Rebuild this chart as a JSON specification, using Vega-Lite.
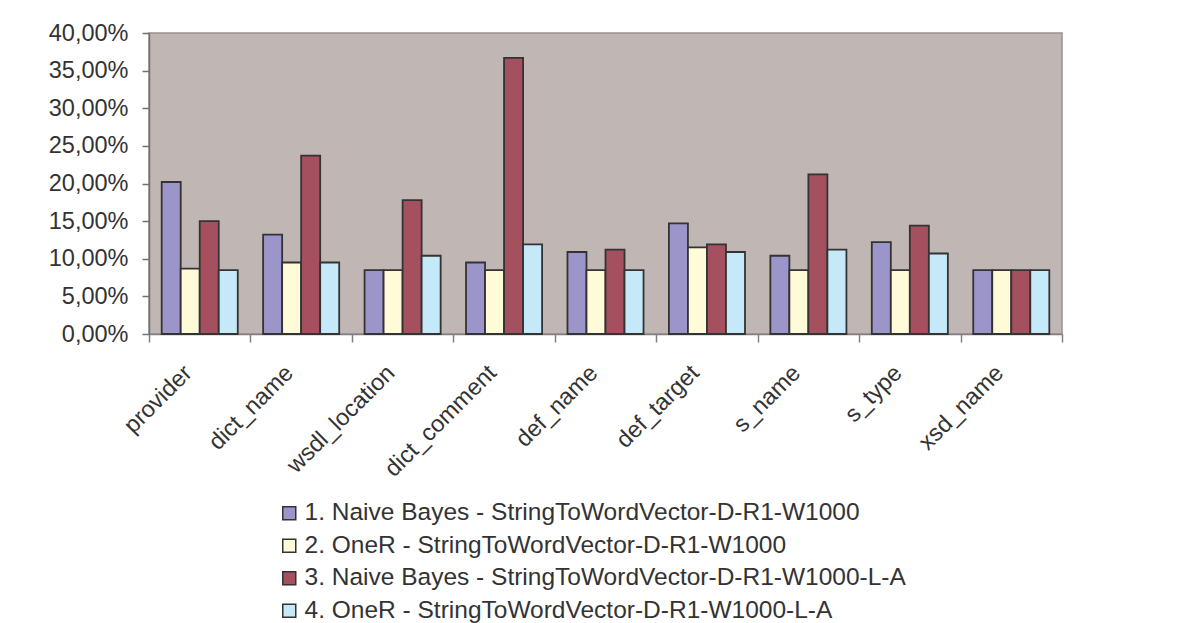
{
  "$schema": "https://vega.github.io/schema/vega-lite/v6.json",
  "width": 913,
  "height": 301,
  "autosize": {"type": "none"},
  "padding": {"left": 149, "top": 33, "right": 130, "bottom": 289},
  "background": "white",
  "data": {
    "values": [
      {"attribute": "provider", "method": "1. Naive Bayes - StringToWordVector-D-R1-W1000", "rate": 0.202},
      {"attribute": "provider", "method": "2. OneR - StringToWordVector-D-R1-W1000", "rate": 0.087},
      {"attribute": "provider", "method": "3. Naive Bayes - StringToWordVector-D-R1-W1000-L-A", "rate": 0.150},
      {"attribute": "provider", "method": "4. OneR - StringToWordVector-D-R1-W1000-L-A", "rate": 0.085},
      {"attribute": "dict_name", "method": "1. Naive Bayes - StringToWordVector-D-R1-W1000", "rate": 0.132},
      {"attribute": "dict_name", "method": "2. OneR - StringToWordVector-D-R1-W1000", "rate": 0.095},
      {"attribute": "dict_name", "method": "3. Naive Bayes - StringToWordVector-D-R1-W1000-L-A", "rate": 0.237},
      {"attribute": "dict_name", "method": "4. OneR - StringToWordVector-D-R1-W1000-L-A", "rate": 0.095},
      {"attribute": "wsdl_location", "method": "1. Naive Bayes - StringToWordVector-D-R1-W1000", "rate": 0.085},
      {"attribute": "wsdl_location", "method": "2. OneR - StringToWordVector-D-R1-W1000", "rate": 0.085},
      {"attribute": "wsdl_location", "method": "3. Naive Bayes - StringToWordVector-D-R1-W1000-L-A", "rate": 0.178},
      {"attribute": "wsdl_location", "method": "4. OneR - StringToWordVector-D-R1-W1000-L-A", "rate": 0.104},
      {"attribute": "dict_comment", "method": "1. Naive Bayes - StringToWordVector-D-R1-W1000", "rate": 0.095},
      {"attribute": "dict_comment", "method": "2. OneR - StringToWordVector-D-R1-W1000", "rate": 0.085},
      {"attribute": "dict_comment", "method": "3. Naive Bayes - StringToWordVector-D-R1-W1000-L-A", "rate": 0.367},
      {"attribute": "dict_comment", "method": "4. OneR - StringToWordVector-D-R1-W1000-L-A", "rate": 0.119},
      {"attribute": "def_name", "method": "1. Naive Bayes - StringToWordVector-D-R1-W1000", "rate": 0.109},
      {"attribute": "def_name", "method": "2. OneR - StringToWordVector-D-R1-W1000", "rate": 0.085},
      {"attribute": "def_name", "method": "3. Naive Bayes - StringToWordVector-D-R1-W1000-L-A", "rate": 0.112},
      {"attribute": "def_name", "method": "4. OneR - StringToWordVector-D-R1-W1000-L-A", "rate": 0.085},
      {"attribute": "def_target", "method": "1. Naive Bayes - StringToWordVector-D-R1-W1000", "rate": 0.147},
      {"attribute": "def_target", "method": "2. OneR - StringToWordVector-D-R1-W1000", "rate": 0.115},
      {"attribute": "def_target", "method": "3. Naive Bayes - StringToWordVector-D-R1-W1000-L-A", "rate": 0.119},
      {"attribute": "def_target", "method": "4. OneR - StringToWordVector-D-R1-W1000-L-A", "rate": 0.109},
      {"attribute": "s_name", "method": "1. Naive Bayes - StringToWordVector-D-R1-W1000", "rate": 0.104},
      {"attribute": "s_name", "method": "2. OneR - StringToWordVector-D-R1-W1000", "rate": 0.085},
      {"attribute": "s_name", "method": "3. Naive Bayes - StringToWordVector-D-R1-W1000-L-A", "rate": 0.212},
      {"attribute": "s_name", "method": "4. OneR - StringToWordVector-D-R1-W1000-L-A", "rate": 0.112},
      {"attribute": "s_type", "method": "1. Naive Bayes - StringToWordVector-D-R1-W1000", "rate": 0.122},
      {"attribute": "s_type", "method": "2. OneR - StringToWordVector-D-R1-W1000", "rate": 0.085},
      {"attribute": "s_type", "method": "3. Naive Bayes - StringToWordVector-D-R1-W1000-L-A", "rate": 0.144},
      {"attribute": "s_type", "method": "4. OneR - StringToWordVector-D-R1-W1000-L-A", "rate": 0.107},
      {"attribute": "xsd_name", "method": "1. Naive Bayes - StringToWordVector-D-R1-W1000", "rate": 0.085},
      {"attribute": "xsd_name", "method": "2. OneR - StringToWordVector-D-R1-W1000", "rate": 0.085},
      {"attribute": "xsd_name", "method": "3. Naive Bayes - StringToWordVector-D-R1-W1000-L-A", "rate": 0.085},
      {"attribute": "xsd_name", "method": "4. OneR - StringToWordVector-D-R1-W1000-L-A", "rate": 0.085}
    ]
  },
  "mark": {"type": "bar", "stroke": "#333333", "strokeWidth": 1.8},
  "encoding": {
    "x": {
      "field": "attribute",
      "type": "nominal",
      "sort": null,
      "scale": {"paddingInner": 0, "paddingOuter": 0},
      "axis": {
        "title": null,
        "tickBand": "extent",
        "tickSize": 8,
        "tickWidth": 1.5,
        "tickColor": "#808080",
        "domainColor": "#808080",
        "domainWidth": 1.5,
        "labelAngle": -45,
        "labelAlign": "right",
        "labelBaseline": "middle",
        "labelPadding": 27,
        "labelOffset": -12,
        "labelFont": "Liberation Sans",
        "labelFontSize": 23.5,
        "labelColor": "#333333"
      }
    },
    "xOffset": {
      "field": "method",
      "type": "nominal",
      "sort": null,
      "scale": {"paddingInner": 0, "paddingOuter": 0.667}
    },
    "y": {
      "field": "rate",
      "type": "quantitative",
      "scale": {"domain": [0, 0.4], "nice": false},
      "axis": {
        "title": null,
        "values": [0, 0.05, 0.1, 0.15, 0.2, 0.25, 0.3, 0.35, 0.4],
        "labelExpr": "replace(format(datum.value, '.2%'), '.', ',')",
        "tickSize": 7,
        "tickWidth": 1.5,
        "tickColor": "#707070",
        "domainColor": "#707070",
        "domainWidth": 1.5,
        "labelPadding": 14,
        "labelFont": "Liberation Sans",
        "labelFontSize": 23.5,
        "labelColor": "#333333"
      }
    },
    "color": {
      "field": "method",
      "type": "nominal",
      "sort": null,
      "scale": {
        "domain": [
          "1. Naive Bayes - StringToWordVector-D-R1-W1000",
          "2. OneR - StringToWordVector-D-R1-W1000",
          "3. Naive Bayes - StringToWordVector-D-R1-W1000-L-A",
          "4. OneR - StringToWordVector-D-R1-W1000-L-A"
        ],
        "range": ["#9B95C9", "#FFFAD7", "#A5505F", "#C5E9F8"]
      },
      "legend": {
        "title": null,
        "orient": "none",
        "legendX": 128,
        "legendY": 468,
        "direction": "vertical",
        "symbolType": "square",
        "symbolSize": 169,
        "symbolStrokeColor": "#333333",
        "symbolStrokeWidth": 1.5,
        "labelFont": "Liberation Sans",
        "labelFontSize": 24.5,
        "labelColor": "#333333",
        "labelOffset": 3,
        "labelLimit": 0,
        "rowPadding": 7.5,
        "padding": 0
      }
    }
  },
  "config": {
    "view": {"fill": "#C0B7B4", "stroke": "#9A9191", "strokeWidth": 1.5},
    "axis": {"grid": false}
  }
}
